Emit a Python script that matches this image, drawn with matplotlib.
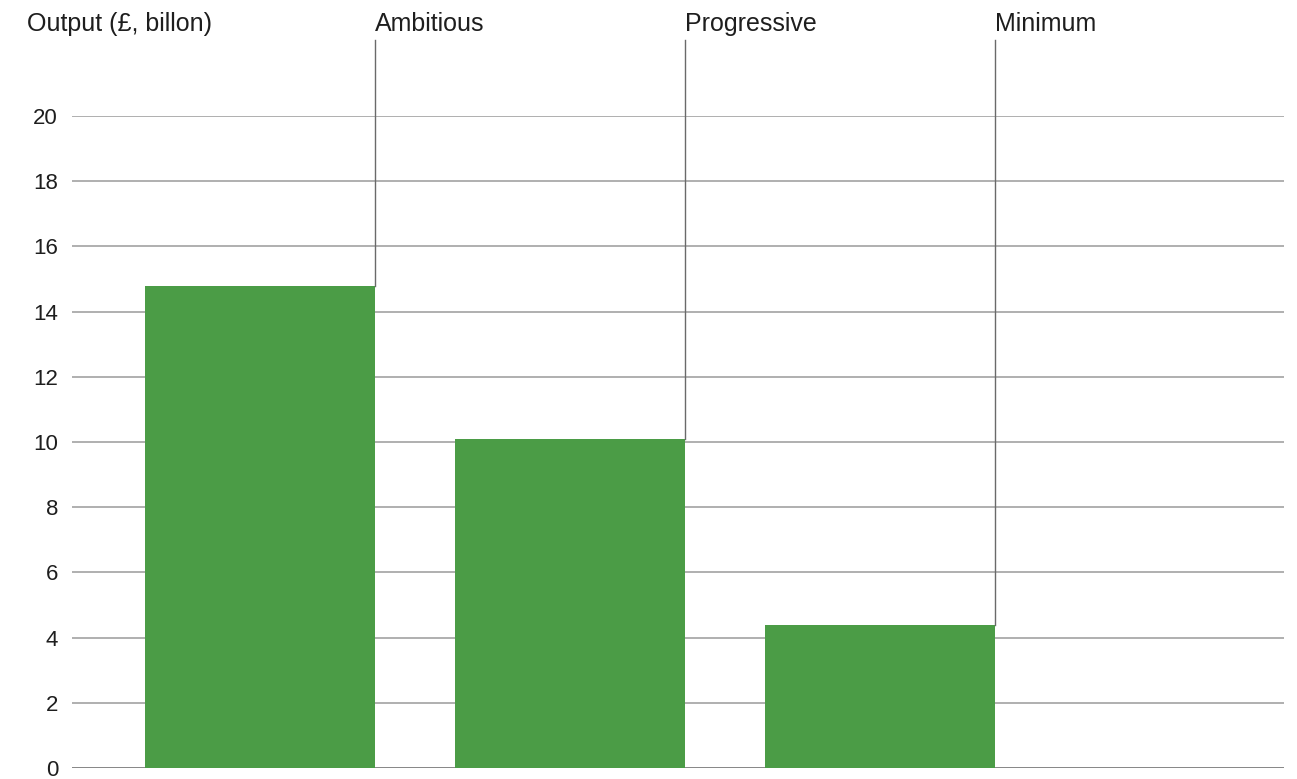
import matplotlib.pyplot as plt
import matplotlib.transforms as mtransforms

plt.rcParams['font.family'] = ['Liberation Sans', 'DejaVu Sans']

# scenarios and output values (GBP billion)
scenarios = ["Ambitious", "Progressive", "Minimum"]
output = [14.8, 10.1, 4.4]
yticks = [0, 2, 4, 6, 8, 10, 12, 14, 16, 18, 20]

fig = plt.figure(figsize=(12.97, 7.79), dpi=100)
ax = fig.add_axes([0.0555, 0.0141, 0.9345, 0.8370])

x = list(range(len(scenarios)))
width = 0.742
ax.bar(x, output, width=width, color='#4b9c46', zorder=3)

# horizontal grid lines
for t in yticks:
    ax.axhline(t, color='#9a9a9a' if t else '#666666', lw=1.1, zorder=1)

ax.set_xlim(-0.606, 3.303)
ax.set_ylim(0, 20)
ax.set_yticks(yticks)
ax.set_yticklabels([str(t) for t in yticks], fontsize=16, color='#1e1e1e')
ax.tick_params(axis='y', length=0, pad=10)
ax.set_xticks([])
for s in ax.spines.values():
    s.set_visible(False)

baseline = 1 - 31 / 779
trans = mtransforms.blended_transform_factory(ax.transData, fig.transFigure)

# label lines rising from each bar's right edge
for xi, v, name in zip(x, output, scenarios):
    xr = xi + width / 2
    ax.plot([xr, xr], [v, 22.33], color='#6a6a6a', lw=1.0, clip_on=False, zorder=4)
    ax.text(xr, baseline, name, fontsize=18, color='#1e1e1e', ha='left',
            va='baseline', transform=trans, clip_on=False)

fig.text(27 / 1297, baseline, "Output (£, billon)", fontsize=18,
         color='#1e1e1e', ha='left', va='baseline')

fig.savefig('out.png', dpi=100)
